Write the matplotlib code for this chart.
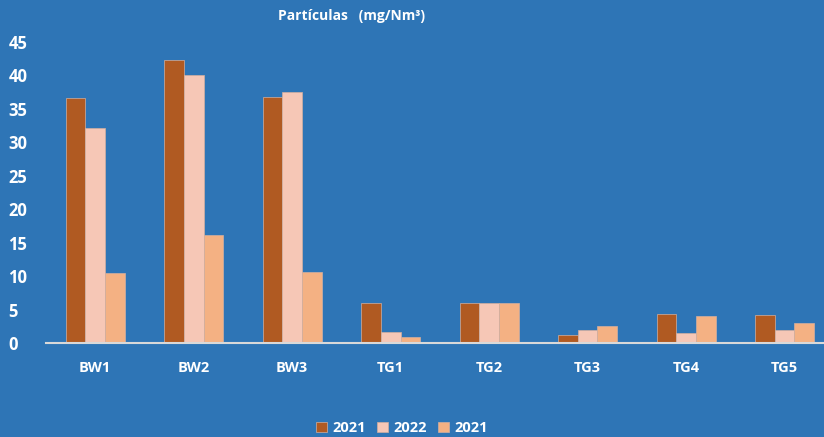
import numpy as np
import matplotlib
matplotlib.use("Agg")
import matplotlib.pyplot as plt

# data
categories = ["BW1", "BW2", "BW3", "TG1", "TG2", "TG3", "TG4", "TG5"]
series_labels = ["2021", "2022", "2021"]
vals_a = [36.6, 42.3, 36.8, 6.0, 6.0, 1.2, 4.3, 4.2]
vals_b = [32.1, 40.1, 37.5, 1.6, 6.0, 1.9, 1.5, 2.0]
vals_c = [10.5, 16.1, 10.6, 0.9, 6.0, 2.5, 4.0, 3.0]
yticks = [0, 5, 10, 15, 20, 25, 30, 35, 40, 45]

bg = "#2E75B6"
colors = ["#B05A22", "#F6C7B6", "#F4B183"]

plt.rcParams["font.family"] = ["Open Sans", "DejaVu Sans"]
plt.rcParams["font.weight"] = "bold"

W, H = 824, 437
fig = plt.figure(figsize=(W / 100, H / 100), dpi=100, facecolor=bg)
ax = fig.add_axes([46 / W, 1 - 343 / H, (W - 46) / W, (343 - 42) / H])
ax.set_facecolor(bg)

x = np.arange(len(categories))
bw = 0.2
for i, (vals, c) in enumerate(zip([vals_a, vals_b, vals_c], colors)):
    ax.bar(x + (i - 1) * bw, vals, width=bw, color=c, edgecolor="#D2AFA0",
           linewidth=0.5, label=series_labels[i], zorder=2)

ax.set_xlim(-0.5, 7.4)
ax.set_ylim(0, 45)
ax.set_yticks(yticks)
ax.set_xticks(x)
ax.set_xticklabels(categories, fontsize=10.5, color="white", fontweight="bold")
ax.set_yticklabels([str(t) for t in yticks], fontsize=12, color="white",
                   fontweight="bold", ha="left")
ax.tick_params(axis="y", length=0, pad=27)
ax.tick_params(axis="x", length=0, pad=13)

for s in ["top", "right", "left"]:
    ax.spines[s].set_visible(False)
ax.spines["bottom"].set_color("#D9D9D9")
ax.spines["bottom"].set_linewidth(1.5)

fig.text(278 / W, 1 - 16 / H, "Partículas   (mg/Nm³)", color="white",
         fontsize=10, fontweight="bold", va="center", ha="left")

leg = fig.legend(loc="center", bbox_to_anchor=(402 / W, 1 - 428 / H), ncol=3,
                 frameon=False, fontsize=10.5, handlelength=0.75,
                 handleheight=0.75, handletextpad=0.35, columnspacing=0.8)
for t in leg.get_texts():
    t.set_color("white")
    t.set_fontweight("bold")

fig.savefig("out.png", dpi=100, facecolor=bg)
